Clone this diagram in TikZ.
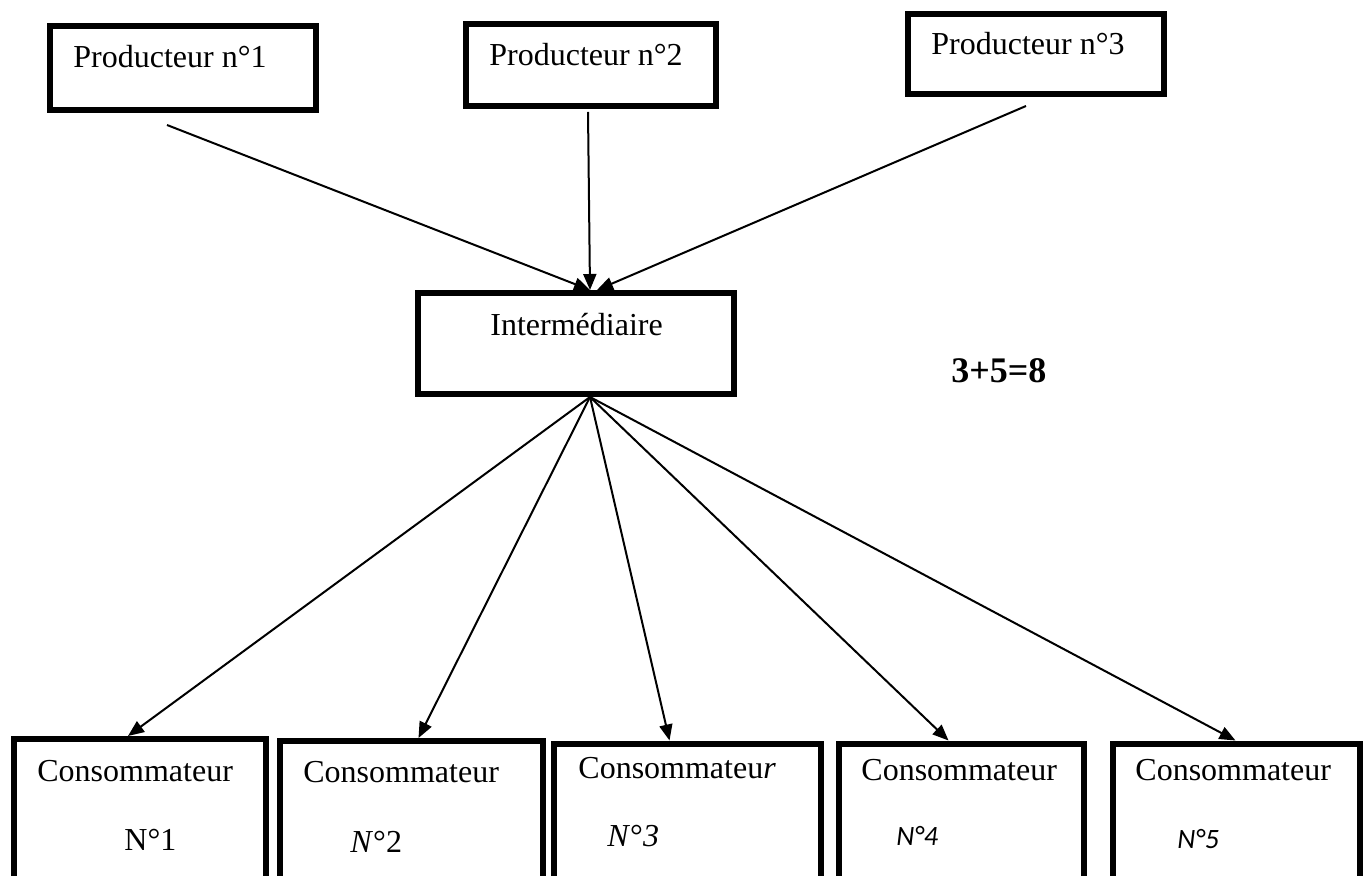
\documentclass[tikz,border=0pt]{standalone}
\usepackage{fontspec}
\setmainfont{Liberation Serif}
\newfontfamily\calib{Carlito}
\usepackage{tikz}
\usetikzlibrary{arrows.meta}

\begin{document}
\begin{tikzpicture}[x=0.5pt,y=-0.5pt,>={Triangle[length=8pt,width=6.5pt]},
  box/.style={draw, line width=3pt, inner sep=0pt},
  lbl/.style={inner sep=0pt, anchor=base west, font=\fontsize{16}{19}\selectfont},
  flow/.style={->, line width=1pt}]
\useasboundingbox (0,0) rectangle (1363,876);
\clip (0,0) rectangle (1363,876);
% producteurs
\node[box, minimum width=133pt, minimum height=42pt] (p1) at (183,68) {};
\node[box, minimum width=125pt, minimum height=41pt] (p2) at (591,65) {};
\node[box, minimum width=128pt, minimum height=40pt] (p3) at (1036,54) {};
\node[lbl] (p1txt) at (73,68) {Producteur n°1};
\node[lbl] (p2txt) at (489,66) {Producteur n°2};
\node[lbl] (p3txt) at (931,55) {Producteur n°3};
% intermediaire
\node[box, minimum width=158pt, minimum height=50.5pt] (inter) at (576,343.5) {};
\node[lbl] (intertxt) at (490,336) {Intermédiaire};
\node[lbl, font=\fontsize{18}{22}\selectfont\bfseries] (calc) at (951,383) {3+5=8};
% consommateurs
\node[box, minimum width=126pt, minimum height=80.5pt] (c1) at (140,819.5) {};
\node[box, minimum width=131.5pt, minimum height=80pt] (c2) at (411.5,821) {};
\node[box, minimum width=133.5pt, minimum height=79pt] (c3) at (687.5,822.5) {};
\node[box, minimum width=122.5pt, minimum height=79pt] (c4) at (961.5,822.5) {};
\node[box, minimum width=123.5pt, minimum height=79pt] (c5) at (1236.5,822.5) {};
\node[lbl] (c1txt) at (37,781) {Consommateur};
\node[lbl] (c2txt) at (303,782) {Consommateur};
\node[lbl] (c3txt) at (578,778) {Consommateu\textit{r}};
\node[lbl] (c4txt) at (861,780) {Consommateur};
\node[lbl] (c5txt) at (1135,780) {Consommateur};
\node[lbl] (c1num) at (124,850) {N°1};
\node[lbl] (c2num) at (350,852) {\textit{N}°2};
\node[lbl] (c3num) at (607,846) {\textit{N}°\textit{3}};
\node[lbl, font=\fontsize{14}{17}\selectfont\calib\itshape] (c4num) at (896,845) {N°4};
\node[lbl, font=\fontsize{14}{17}\selectfont\calib\itshape] (c5num) at (1177,848) {N°5};
% fleches
\draw[flow] ([shift={(-8pt,-6pt)}]p1.south) -- ([xshift=7pt]inter.north);
\draw[flow] ([shift={(-1.5pt,-1.5pt)}]p2.south) -- ([xshift=7pt]inter.north);
\draw[flow] ([shift={(-5pt,-4.5pt)}]p3.south) -- ([xshift=10.5pt]inter.north);
\draw[flow] ([xshift=7pt]inter.south) -- ([xshift=-6pt]c1.north);
\draw[flow] ([xshift=7pt]inter.south) -- ([xshift=3.5pt]c2.north);
\draw[flow] ([xshift=7pt]inter.south) -- ([xshift=-9pt]c3.north);
\draw[flow] ([xshift=7pt]inter.south) -- ([xshift=-6.5pt]c4.north);
\draw[flow] ([xshift=7pt]inter.south) -- ([xshift=-0.5pt]c5.north);
\end{tikzpicture}
\end{document}
